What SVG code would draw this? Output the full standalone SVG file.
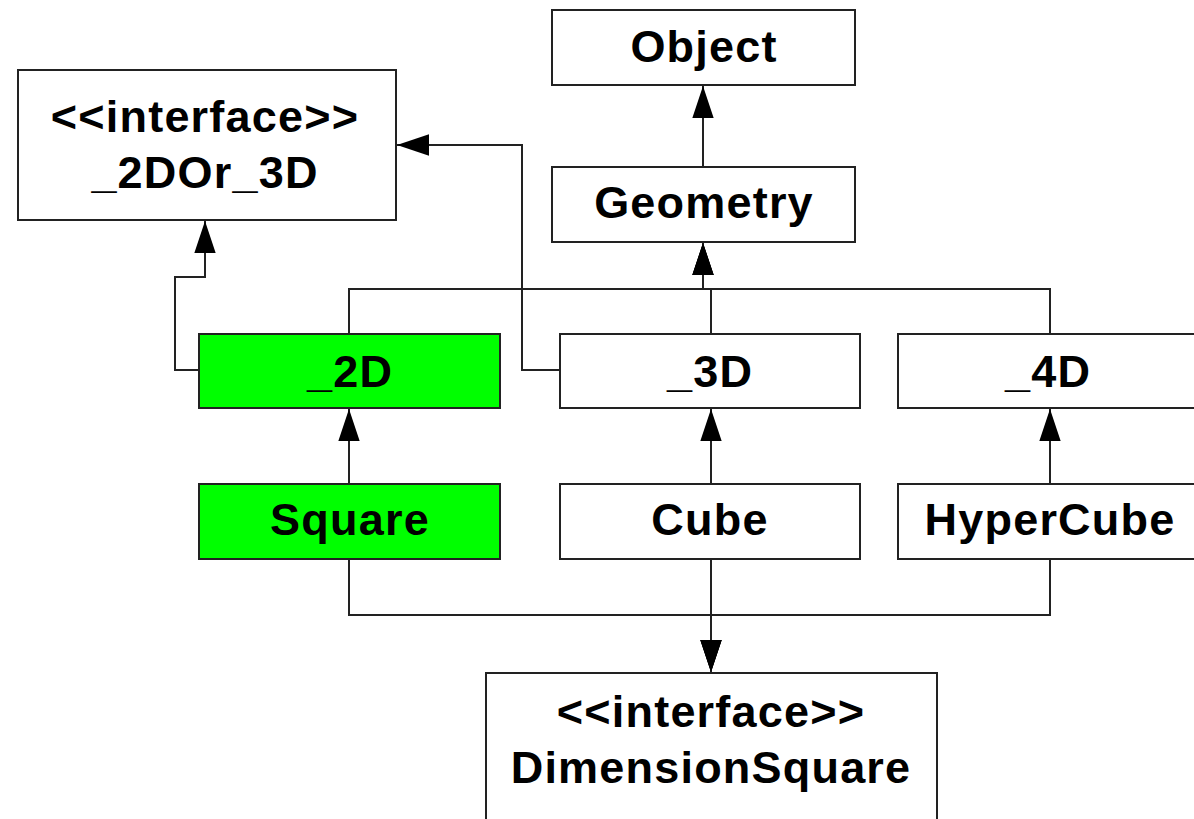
<svg xmlns="http://www.w3.org/2000/svg" width="1194" height="819" viewBox="0 0 1194 819">
<style>
.box{fill:#ffffff;stroke:#222222;stroke-width:2}
.green{fill:#00ff00}
.lbl{font-family:"Liberation Sans",Arial,sans-serif;font-weight:bold;font-size:45px;letter-spacing:1.2px;fill:#000000;text-anchor:middle}
.conn{fill:none;stroke:#222222;stroke-width:2;marker-end:url(#tri)}
</style>
<defs>
<marker id="tri" markerUnits="userSpaceOnUse" markerWidth="32" markerHeight="22" refX="30" refY="10" orient="auto" viewBox="0 0 30 20">
<path d="M0,0 L30,10 L0,20 Z" fill="#000000"/>
</marker>
</defs>
<rect width="1194" height="819" fill="#ffffff"/>
<g id="connectors">
<path class="conn" d="M703,167 V86"/>
<path class="conn" d="M349,334 V289 H703 V243"/>
<path class="conn" d="M711,334 V289 H703 V243"/>
<path class="conn" d="M1050,334 V289 H703 V243"/>
<path class="conn" d="M199,370 H175 V277 H205 V221"/>
<path class="conn" d="M560,370 H522 V145 H397"/>
<path class="conn" d="M349,484 V409"/>
<path class="conn" d="M711,484 V409"/>
<path class="conn" d="M1050,484 V409"/>
<path class="conn" d="M349,559 V615 H711 V672"/>
<path class="conn" d="M711,559 V672"/>
<path class="conn" d="M1050,559 V615 H711 V672"/>
</g>
<g id="Object">
<rect class="box" x="552" y="10" width="303" height="75"/>
<text class="lbl" x="704" y="62">Object</text>
</g>
<g id="Geometry">
<rect class="box" x="552" y="167" width="303" height="75"/>
<text class="lbl" x="704" y="218">Geometry</text>
</g>
<g id="_2DOr_3D">
<rect class="box" x="18" y="70" width="378" height="150"/>
<text class="lbl" x="205" y="132">&lt;&lt;interface&gt;&gt;</text>
<text class="lbl" x="205" y="188">_2DOr_3D</text>
</g>
<g id="_2D">
<rect class="box green" x="199" y="334" width="301" height="74"/>
<text class="lbl" x="350" y="387">_2D</text>
</g>
<g id="_3D">
<rect class="box" x="560" y="334" width="300" height="74"/>
<text class="lbl" x="710" y="387">_3D</text>
</g>
<g id="_4D">
<rect class="box" x="898" y="334" width="300" height="74"/>
<text class="lbl" x="1048" y="387">_4D</text>
</g>
<g id="Square">
<rect class="box green" x="199" y="484" width="301" height="75"/>
<text class="lbl" x="350" y="535">Square</text>
</g>
<g id="Cube">
<rect class="box" x="560" y="484" width="300" height="75"/>
<text class="lbl" x="710" y="535">Cube</text>
</g>
<g id="HyperCube">
<rect class="box" x="898" y="484" width="300" height="75"/>
<text class="lbl" x="1050" y="535">HyperCube</text>
</g>
<g id="DimensionSquare">
<rect class="box" x="486" y="673" width="451" height="160"/>
<text class="lbl" x="711" y="727">&lt;&lt;interface&gt;&gt;</text>
<text class="lbl" x="711" y="783">DimensionSquare</text>
</g>
</svg>
